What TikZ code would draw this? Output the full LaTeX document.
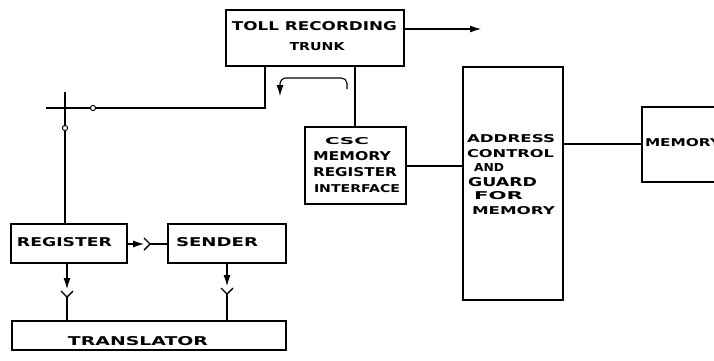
\documentclass[tikz,border=0pt]{standalone}
\usepackage{fontspec}
\usepackage{graphicx}
\usetikzlibrary{arrows.meta}
\newfontfamily\lett{DejaVu Sans}[BoldFont={DejaVu Sans Bold}]
\newcommand\tx[3]{\resizebox{#1pt}{#2pt}{\lett\bfseries #3}}
\tikzset{
  blk/.style={draw, line width=1.1pt, inner sep=0pt},
  lbl/.style={inner sep=0pt, anchor=center},
  wire/.style={line width=1.1pt},
  arr/.style={arrows={-Latex[length=11pt,width=7pt]}},
  heavy/.style={line width=2.6pt},
  jack/.style={line width=1.4pt},
}
\begin{document}
\begin{tikzpicture}[x=1pt,y=-1pt]
\clip (0,0) rectangle (714,360);
\fill[white] (0,0) rectangle (714,360);
% boxes
\node[blk, minimum width=178pt, minimum height=56pt] (trunk) at (315,38) {};
\node[blk, minimum width=101pt, minimum height=77pt] (csc) at (355.5,165.5) {};
\node[blk, minimum width=100pt, minimum height=233pt] (addr) at (513,183.5) {};
\node[blk, minimum width=110pt, minimum height=75pt] (mem) at (697,144.5) {};
\node[blk, minimum width=116pt, minimum height=39pt] (reg) at (69,243.5) {};
\node[blk, minimum width=118pt, minimum height=39pt] (snd) at (227,243.5) {};
\node[blk, minimum width=274pt, minimum height=29pt] (trans) at (149,335.5) {};
% texts
\node[lbl] (t1) at (314.5,26.5) {\tx{165}{9}{TOLL RECORDING}};
\node[lbl] (t2) at (317,47) {\tx{55}{8}{TRUNK}};
\node[lbl] (c1) at (347,141) {\tx{44}{7}{CSC}};
\node[lbl] (c2) at (352,156.5) {\tx{78}{9}{MEMORY}};
\node[lbl] (c3) at (355,172.5) {\tx{84}{9}{REGISTER}};
\node[lbl] (c4) at (357,189) {\tx{86}{8}{INTERFACE}};
\node[lbl] (a1) at (511,139) {\tx{88}{8}{ADDRESS}};
\node[lbl] (a2) at (510.5,154) {\tx{87}{8}{CONTROL}};
\node[lbl] (a3) at (489,167) {\tx{30}{8}{AND}};
\node[lbl] (a4) at (502.5,182.5) {\tx{69}{9}{GUARD}};
\node[lbl] (a5) at (498.5,195.5) {\tx{49}{8}{FOR}};
\node[lbl] (a6) at (513.5,211) {\tx{83}{8}{MEMORY}};
\node[lbl] (m1) at (683,142.5) {\tx{76}{8}{MEMORY}};
\node[lbl] (r1) at (64.5,242.5) {\tx{95}{9}{REGISTER}};
\node[lbl] (s1) at (217,242.5) {\tx{82}{9}{SENDER}};
\node[lbl] (tr1) at (138,341.5) {\tx{140}{9}{TRANSLATOR}};
% coordinates
\coordinate (out) at (481,29);
\coordinate (bend) at (265,108);
\coordinate (hc) at (93,108);
\coordinate (hx) at (46,108);
\coordinate (vtop) at (65,92);
\coordinate (vmid) at (65,116);
\coordinate (vc) at (65,128);
\coordinate (jr) at (144,244);
\coordinate (jrv) at (150,244);
\coordinate (jd1) at (67,289);
\coordinate (jd1v) at (67,297);
\coordinate (jd2) at (227,286);
\coordinate (jd2v) at (227,294);
% connectors
\draw[wire, arr] (trunk.east |- 0,29) -- (out);
\draw[wire] (trunk.south -| bend) -- (bend) -- (hc);
\draw[heavy] (hc) ++(-2.6,0) -- (hx);
\draw[heavy] (vtop) -- (vmid);
\draw[wire] (vmid) -- (vc);
\draw[line width=1pt, fill=white] (hc) circle (2.6);
\draw[line width=1pt, fill=white] (vc) circle (2.6);
\draw[wire] (vc) ++(0,2.6) -- (reg.north -| vc);
\draw[wire] (trunk.south -| 355,0) -- (csc.north -| 355,0);
\draw[wire, arr] (347,89) -- (347,83) to[out=90,in=0] (341,78) -- (286,78) to[out=180,in=90] (280,84) -- (280,96);
\draw[wire] (csc.east |- 0,166) -- (addr.west |- 0,166);
\draw[wire] (addr.east |- 0,144) -- (mem.west |- 0,144);
% register -> sender jack
\draw[wire, arr] (reg.east |- jr) -- (jr);
\draw[jack] (144,238) -- (jrv) -- (144,250);
\draw[wire] (jrv) -- (snd.west |- jrv);
% register -> translator
\draw[wire, arr] (reg.south -| jd1) -- (jd1);
\draw[jack] (61,291) -- (jd1v) -- (73,291);
\draw[wire] (jd1v) -- (trans.north -| jd1v);
% sender -> translator
\draw[wire, arr] (snd.south -| jd2) -- (jd2);
\draw[jack] (221,288) -- (jd2v) -- (233,288);
\draw[wire] (jd2v) -- (trans.north -| jd2v);
\end{tikzpicture}
\end{document}
